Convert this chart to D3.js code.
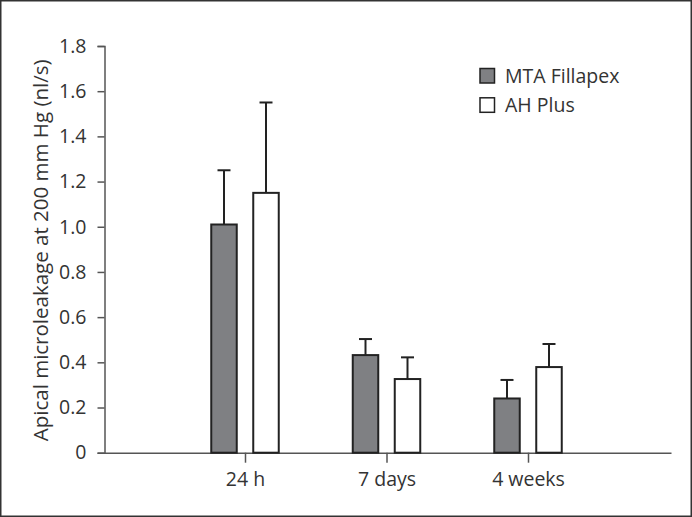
<!DOCTYPE html>
<html><head><meta charset="utf-8">
<script src="https://d3js.org/d3.v7.min.js"></script>
<style>html,body{margin:0;padding:0;background:#fff}svg{display:block}</style>
</head><body>
<svg id="c" width="692" height="517"></svg>
<script>
const categories = ["24 h", "7 days", "4 weeks"];
const seriesNames = ["MTA Fillapex", "AH Plus"];
const mtaValues = [1.01, 0.432, 0.24];
const mtaErrors = [0.24, 0.071, 0.082];
const ahValues = [1.15, 0.326, 0.379];
const ahErrors = [0.40, 0.096, 0.102];
const yTicks = [0, 0.2, 0.4, 0.6, 0.8, 1.0, 1.2, 1.4, 1.6, 1.8];
const yTickLabels = ["0", "0.2", "0.4", "0.6", "0.8", "1.0", "1.2", "1.4", "1.6", "1.8"];
const yTitle = "Apical microleakage at 200 mm Hg (nl/s)";

const font = "'Open Sans', sans-serif";
const fs = 19.5;
const svg = d3.select("#c");
svg.append("rect").attr("x",0.75).attr("y",0.75).attr("width",690.5).attr("height",515.5)
  .attr("fill","none").attr("stroke","#333").attr("stroke-width",1.5);

const x0 = 104.5, x1 = 671, yBot = 452.7, yTop = 46;
const y = d3.scaleLinear().domain([0,1.8]).range([yBot,yTop]);
const x = d3.scalePoint().domain(categories).range([245, 528]);
const sub = d3.scalePoint().domain(seriesNames).range([-21, 21]);
const bw = 25.5;

// y axis
const ya = svg.append("g").attr("transform",`translate(${x0},0)`)
  .call(d3.axisLeft(y).tickValues(yTicks).tickFormat((d,i)=>yTickLabels[i]).tickSizeOuter(0).tickSize(7).tickPadding(11));
ya.select(".domain").attr("stroke","#555").attr("stroke-width",1.5);
ya.selectAll(".tick line").attr("stroke","#555").attr("stroke-width",1.5);
ya.selectAll(".tick text").attr("font-family",font).attr("font-size",fs).attr("fill","#333");

// x axis
const xa = svg.append("g").attr("transform",`translate(0,${yBot})`)
  .call(d3.axisBottom(d3.scaleLinear().domain([0,1]).range([x0,x1])).tickValues([]).tickSizeOuter(0));
xa.select(".domain").attr("stroke","#555").attr("stroke-width",1.5);
const xt = svg.append("g").attr("transform",`translate(0,${yBot})`)
  .call(d3.axisBottom(x).tickSize(10).tickSizeOuter(0));
xt.select(".domain").remove();
xt.selectAll(".tick line").attr("stroke","#555").attr("stroke-width",1.5);
xt.selectAll(".tick text").attr("font-family",font).attr("font-size",fs).attr("fill","#333")
  .attr("y",33).attr("dy",0);

const fills = ["#7f8083", "#ffffff"];
const vals = [mtaValues, ahValues];
const errs = [mtaErrors, ahErrors];
seriesNames.forEach((s, si) => {
  const g = svg.append("g");
  categories.forEach((c, ci) => {
    const cx = x(c) + sub(s);
    const v = vals[si][ci], e = errs[si][ci];
    g.append("line").attr("x1",cx).attr("x2",cx).attr("y1",y(v)).attr("y2",y(v+e))
      .attr("stroke","#222").attr("stroke-width",2);
    g.append("line").attr("x1",cx-6.5).attr("x2",cx+6.5).attr("y1",y(v+e)).attr("y2",y(v+e))
      .attr("stroke","#222").attr("stroke-width",2);
    g.append("rect").attr("x",cx-bw/2).attr("y",y(v)).attr("width",bw).attr("height",yBot-y(v))
      .attr("fill",fills[si]).attr("stroke","#222").attr("stroke-width",2);
  });
});

// y title
svg.append("text").attr("transform",`translate(47.5,${(yTop+yBot)/2 + 1}) rotate(-90)`)
  .attr("text-anchor","middle").attr("font-family",font).attr("font-size",20.5).attr("fill","#333").text(yTitle);

// legend
const lg = svg.append("g");
seriesNames.forEach((s, i) => {
  const ly = 68.5 + i*29.3;
  lg.append("rect").attr("x",480).attr("y",ly).attr("width",14.5).attr("height",14.5)
    .attr("fill",fills[i]).attr("stroke","#222").attr("stroke-width",1.5);
  lg.append("text").attr("x",505).attr("y",ly+14).attr("font-family",font).attr("font-size",fs)
    .attr("fill","#333").text(s);
});
</script>
</body></html>
